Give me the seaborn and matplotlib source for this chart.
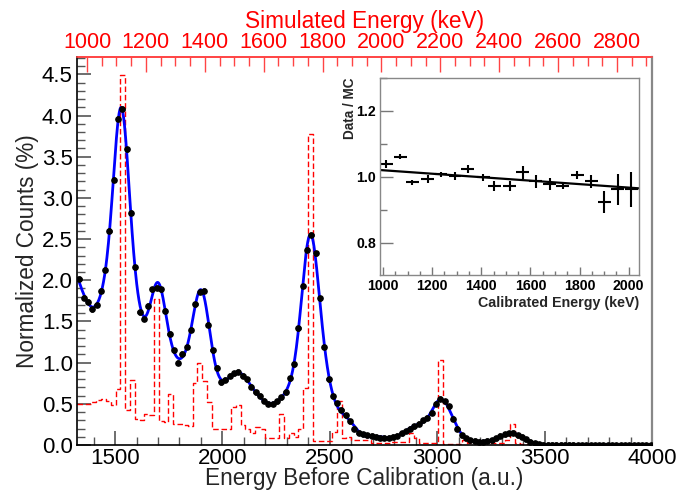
import numpy as np
import pandas as pd
import matplotlib
matplotlib.use('Agg')
import matplotlib.pyplot as plt
from matplotlib.ticker import MultipleLocator, FixedLocator, FormatStrFormatter
import seaborn as sns

# measured spectrum, 20 a.u. bins starting at 1334 a.u. (bin centres)
data_first_centre = 1334
data_bin_width = 20
data_counts = [
    2.02, 1.79, 1.74, 1.65, 1.70, 1.87, 2.13, 2.60, 3.22, 3.96,
    4.08, 3.59, 2.82, 2.16, 1.61, 1.53, 1.69, 1.89, 1.91, 1.89,
    1.63, 1.35, 1.15, 1.00, 1.11, 1.19, 1.40, 1.71, 1.86, 1.87,
    1.46, 1.15, 0.94, 0.76, 0.79, 0.84, 0.87, 0.89, 0.84, 0.80,
    0.71, 0.64, 0.60, 0.54, 0.50, 0.50, 0.53, 0.58, 0.64, 0.81,
    0.98, 1.42, 1.93, 2.37, 2.55, 2.33, 1.78, 1.19, 0.80, 0.59,
    0.51, 0.43, 0.36, 0.29, 0.20, 0.15, 0.13, 0.12, 0.11, 0.10,
    0.09, 0.09, 0.09, 0.10, 0.11, 0.14, 0.17, 0.20, 0.23, 0.26,
    0.30, 0.33, 0.39, 0.50, 0.56, 0.53, 0.47, 0.32, 0.20, 0.12,
    0.08, 0.06, 0.05, 0.04, 0.04, 0.05, 0.06, 0.08, 0.11, 0.13,
    0.14, 0.15, 0.12, 0.10, 0.07, 0.04, 0.02, 0.01, 0.005, 0.003,
    0.002, 0.002, 0.001, 0.001, 0.001, 0.001, 0.0, 0.0, 0.0, 0.0,
    0.0, 0.0, 0.0, 0.0, 0.0, 0.0, 0.0, 0.0, 0.0, 0.0,
    0.0, 0.0, 0.0, 0.0,
]
data_yerr = 0.03

# simulated (MC) spectrum drawn against the uncalibrated axis
mc_first_edge = 1323
mc_bin_width = 22.4
mc_counts = [
    0.50, 0.50, 0.50, 0.52, 0.55, 0.56, 0.53, 0.49, 0.68, 4.49,
    0.42, 0.79, 0.32, 0.30, 0.38, 0.36, 1.77, 0.29, 0.28, 0.62,
    0.26, 0.25, 0.24, 0.23, 0.75, 1.00, 0.78, 0.52, 0.19, 0.19,
    0.19, 0.20, 0.46, 0.48, 0.24, 0.20, 0.14, 0.22, 0.20, 0.08,
    0.08, 0.09, 0.38, 0.08, 0.14, 0.10, 0.20, 0.69, 3.78, 0.05,
    0.05, 0.05, 0.05, 0.16, 0.53, 0.08, 0.10, 0.06, 0.06, 0.06,
    0.06, 0.03, 0.03, 0.03, 0.03, 0.04, 0.04, 0.04, 0.04, 0.15,
    0.08, 0.03, 0.03, 0.03, 0.03, 1.03, 0.01, 0.01, 0.01, 0.01,
    0.06, 0.03, 0.03, 0.02, 0.02, 0.02, 0.02, 0.02, 0.03, 0.06,
    0.26, 0.02, 0.01, 0.01, 0.0, 0.0, 0.0, 0.0,
]

# peak model used for the fitted curve (centre, width in a.u.)
peak_centres = [1528, 1700, 1902, 2068, 2408, 2955, 3013, 3352]
peak_widths = [33, 34, 36, 48, 36, 35, 40, 45]
continuum_step = 60
continuum_width = 55
tail_decay = 60

# energy calibration: keV = offset + slope * (a.u. - 1323)
cal_offset = 966.0
cal_slope = 0.7296
top_ticks = [1000, 1200, 1400, 1600, 1800, 2000, 2200, 2400, 2600, 2800]

# inset: data / MC ratio
ratio_energy = [1013, 1070, 1119, 1182, 1236, 1293, 1345, 1408, 1453, 1516,
                1568, 1622, 1678, 1732, 1791, 1847, 1901, 1955, 2011]
ratio_value = [1.040, 1.061, 0.984, 0.995, 1.008, 1.002, 1.024, 0.999, 0.974,
               0.974, 1.014, 0.987, 0.980, 0.974, 1.006, 0.987, 0.923, 0.963,
               0.963]
ratio_yerr = [0.012, 0.008, 0.008, 0.012, 0.008, 0.012, 0.012, 0.010, 0.015,
              0.015, 0.020, 0.020, 0.018, 0.010, 0.012, 0.020, 0.033, 0.047,
              0.053]
ratio_xerr = 26
ratio_p0 = 1.073
ratio_p1 = -5.26e-5


def _basis(x):
    cols = [np.exp(-0.5 * ((x - c) / w) ** 2) for c, w in zip(peak_centres, peak_widths)]
    for c in np.arange(1320, 4040, continuum_step):
        cols.append(np.exp(-0.5 * ((x - c) / continuum_width) ** 2))
    cols.append(np.exp(-(x - 1320) / tail_decay))
    return np.column_stack(cols)


sns.set_theme(style='white')
plt.rcParams['font.family'] = ['Liberation Sans', 'DejaVu Sans']

fig = plt.figure(figsize=(6.94, 4.92), dpi=100)
ax = fig.add_axes([0.111, 0.0955, 0.8285, 0.7886])

x_data = data_first_centre + data_bin_width * np.arange(len(data_counts))
y_data = np.array(data_counts)

# MC histogram
mc_edges = mc_first_edge + mc_bin_width * np.arange(len(mc_counts) + 1)
df_mc = pd.DataFrame({'centre': 0.5 * (mc_edges[:-1] + mc_edges[1:]),
                      'counts': mc_counts})
sns.histplot(data=df_mc, x='centre', weights='counts', bins=list(mc_edges),
             element='step', fill=False, color='#ff0000', linewidth=1.0,
             linestyle=(0, (4, 2)), ax=ax)

# fitted curve (regularised linear least squares on peak + continuum model)
A = _basis(x_data)
lam = 2e-2
coef = np.linalg.solve(A.T @ A + lam * np.eye(A.shape[1]), A.T @ y_data)
x_fine = np.linspace(x_data[0], 4000, 1500)
y_fine = np.clip(_basis(x_fine) @ coef, 0, None)
sns.lineplot(x=x_fine, y=y_fine, color='#0000ff', linewidth=2.0, ax=ax)

ax.errorbar(x_data, y_data, xerr=data_bin_width / 2, yerr=data_yerr, fmt='o',
            ms=3.8, color='black', elinewidth=2.0, capsize=0, zorder=5)

ax.set_xlim(1323, 4000)
ax.set_ylim(0, 4.71)
ax.xaxis.set_major_locator(MultipleLocator(500))
ax.xaxis.set_minor_locator(MultipleLocator(100))
ax.yaxis.set_major_locator(MultipleLocator(0.5))
ax.yaxis.set_minor_locator(MultipleLocator(0.1))
ax.yaxis.set_major_formatter(FormatStrFormatter('%.1f'))
ax.tick_params(which='both', direction='in', labelsize=16, colors='#555555',
               labelcolor='black', top=False, right=False, left=True, bottom=True)
ax.tick_params(which='major', length=10, width=1.2)
ax.tick_params(which='minor', length=5.5, width=1.0)
ax.tick_params(axis='x', pad=2)
ax.tick_params(axis='y', pad=3)
ax.set_xlabel('Energy Before Calibration (a.u.)', fontsize=16.3, labelpad=-1)
ax.set_ylabel('Normalized Counts (%)', fontsize=16.3, labelpad=2)
for side in ['left', 'bottom']:
    ax.spines[side].set_color('black')
    ax.spines[side].set_linewidth(1.2)
ax.spines['right'].set_color('#888888')
ax.spines['right'].set_linewidth(1.6)
ax.spines['top'].set_color('#ff4444')
ax.spines['top'].set_linewidth(1.2)

top = ax.secondary_xaxis('top', functions=(
    lambda v: cal_offset + cal_slope * (v - 1323),
    lambda e: 1323 + (e - cal_offset) / cal_slope))
top.xaxis.set_major_locator(FixedLocator(top_ticks))
top.xaxis.set_minor_locator(MultipleLocator(50))
top.tick_params(which='both', direction='in', colors='#ff4444', labelcolor='#ff0000',
                labelsize=15.5, pad=3)
top.tick_params(which='major', length=11, width=1.0)
top.tick_params(which='minor', length=6.5, width=1.0)
top.spines['top'].set_color('#ff4444')
top.set_xlabel('Simulated Energy (keV)', color='#ff0000', fontsize=16.3, labelpad=3)

# inset ratio panel
ax_in = fig.add_axes([0.5476, 0.4411, 0.3732, 0.4004])
ax_in.errorbar(ratio_energy, ratio_value, xerr=ratio_xerr, yerr=ratio_yerr, fmt='none',
               ecolor='black', elinewidth=1.5, capsize=0)
x_line = np.array([988, 2042])
sns.lineplot(x=x_line, y=ratio_p0 + ratio_p1 * x_line, color='black', linewidth=1.6, ax=ax_in)
ax_in.set_xlim(988, 2042)
ax_in.set_ylim(0.703, 1.3)
ax_in.xaxis.set_major_locator(MultipleLocator(200))
ax_in.xaxis.set_minor_locator(MultipleLocator(50))
ax_in.yaxis.set_major_locator(MultipleLocator(0.2))
ax_in.yaxis.set_minor_locator(MultipleLocator(0.1))
ax_in.yaxis.set_major_formatter(FormatStrFormatter('%.1f'))
ax_in.tick_params(which='both', direction='in', colors='#777777', labelcolor='black',
                  labelsize=10.2, top=False, right=False, left=True, bottom=True, pad=3)
ax_in.tick_params(axis='y', which='major', length=9, width=1.0)
ax_in.tick_params(axis='y', which='minor', length=5, width=1.0)
ax_in.tick_params(axis='x', which='major', length=6, width=1.0)
ax_in.tick_params(axis='x', which='minor', length=3, width=1.0)
for lab in ax_in.get_xticklabels() + ax_in.get_yticklabels():
    lab.set_fontweight('bold')
ax_in.set_xlabel('Calibrated Energy (keV)', fontsize=10.3, fontweight='bold')
ax_in.xaxis.set_label_coords(1.0, -0.105)
ax_in.xaxis.label.set_ha('right')
ax_in.set_ylabel('Data / MC', fontsize=9.8, fontweight='bold')
ax_in.yaxis.set_label_coords(-0.09, 1.0)
ax_in.yaxis.label.set_va('bottom')
ax_in.yaxis.label.set_ha('right')
for side in ax_in.spines:
    ax_in.spines[side].set_color('#888888')
    ax_in.spines[side].set_linewidth(1.0)

fig.savefig('out.png', dpi=100)
plt.close(fig)
